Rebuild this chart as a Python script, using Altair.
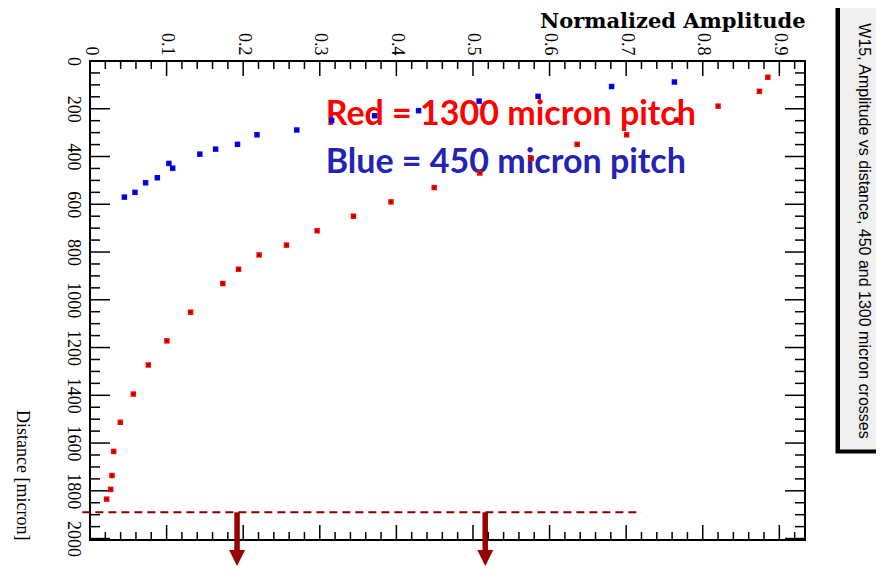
import altair as alt
import pandas as pd

# ---------------- data ----------------
blue_amp = [0.0449, 0.0587, 0.0726, 0.0879, 0.103, 0.108, 0.1434, 0.164, 0.1926,
            0.218, 0.270, 0.3155, 0.3716, 0.429, 0.508, 0.585, 0.681, 0.763]
blue_dist = [570, 550, 510, 489, 429, 449, 390, 369, 349,
             309, 289, 249, 229, 208, 168, 148, 107, 88]

red_amp = [0.885, 0.874, 0.820, 0.766, 0.7006, 0.636, 0.576, 0.509, 0.4494, 0.393,
           0.344, 0.2965, 0.2565, 0.2208, 0.1939, 0.1734, 0.1313, 0.1004, 0.0761,
           0.0566, 0.0396, 0.0309, 0.0287, 0.027, 0.0218]
red_dist = [68, 127, 189, 247, 309, 349, 408, 469, 530, 590,
            650, 711, 771, 812, 872, 932, 1052, 1172, 1273,
            1395, 1513, 1635, 1736, 1794, 1835]

x_labels = [0, 0.1, 0.2, 0.3, 0.4, 0.5, 0.6, 0.7, 0.8, 0.9]
y_labels = [0, 200, 400, 600, 800, 1000, 1200, 1400, 1600, 1800, 2000]
x_minor = [i * 0.02 for i in range(47) if i % 5 != 0]
y_minor = [i * 50 for i in range(41) if i % 4 != 0]

cut_dist = 1890
cut_amp = [-0.01, 0.72]
arrow_amp = [0.192, 0.516]
arrow_shaft_end = 2060
arrow_head_center = 2081

label_texts = ["Red = 1300 micron pitch", "Blue = 450 micron pitch"]
label_amp = [0.3077, 0.3077]
label_dist = [269.5, 470.7]
label_colors = ["#ff0000", "#2323b5"]

title_text = "W15, Amplitude vs distance, 450 and 1300 micron crosses"

# ---------------- layout ----------------
W, H = 715, 479
xs = alt.Scale(domain=[0, 0.9335], nice=False, zero=False)
ys = alt.Scale(domain=[0, 2006], nice=False, zero=False, reverse=True)

x_axis = alt.Axis(
    orient="top", values=x_labels, format="~g", ticks=False, tickSize=0,
    domain=False, grid=False, labelAngle=90, labelAlign="right",
    labelBaseline="middle", labelPadding=6, labelFont="Liberation Serif",
    labelFontSize=18, labelColor="black", labelOverlap=False, labelFlush=False,
    labelBound=False,
    title="Normalized Amplitude", titleFont="DejaVu Serif", titleFontSize=21,
    titleFontWeight="bold", titleColor="black", titleX=W, titleY=-34,
    titleAlign="right", titleBaseline="alphabetic", titleAngle=0,
)
y_axis = alt.Axis(
    orient="left", values=y_labels, format="d", ticks=False, tickSize=0,
    domain=False, grid=False, labelAngle=90, labelAlign="center",
    labelBaseline="top", labelPadding=9, labelFont="Liberation Serif",
    labelFontSize=18, labelColor="black", labelOverlap=False, labelFlush=False,
    labelBound=False,
    title="Distance [micron]", titleFont="Liberation Serif", titleFontSize=18,
    titleFontWeight="normal", titleColor="black", titleAngle=90,
    titleX=-78, titleY=H, titleAlign="right", titleBaseline="bottom",
)


def X(field):
    return alt.X(field, type="quantitative", scale=xs, axis=x_axis)


def Y(field):
    return alt.Y(field, type="quantitative", scale=ys, axis=y_axis)


one = pd.DataFrame({"k": [0]})

# title box (outside the frame, to the right)
box_shadow = alt.Chart(one).mark_rect(color="black").encode(
    x=alt.value(745.5), x2=alt.value(820), y=alt.value(-80), y2=alt.value(392.5))
box = alt.Chart(one).mark_rect(fill="#f0f0f0", stroke="black", strokeWidth=1).encode(
    x=alt.value(749.5), x2=alt.value(820), y=alt.value(-80), y2=alt.value(389))
box_text = alt.Chart(pd.DataFrame({"t": [title_text]})).mark_text(
    angle=90, align="center", baseline="middle",
    font="Liberation Sans", fontSize=16, color="black").encode(
    x=alt.value(774), y=alt.value(170), text="t:N")

# annotations
lab_df = pd.DataFrame({"amp": label_amp, "dist": label_dist,
                       "txt": label_texts, "col": label_colors})
labels = alt.Chart(lab_df).mark_text(
    align="left", baseline="alphabetic", font="Lato", fontWeight="bold",
    fontSize=34).encode(
    x=X("amp"), y=Y("dist"), text="txt:N",
    color=alt.Color("col:N", scale=None))

cut_df = pd.DataFrame({"a1": [cut_amp[0]], "a2": [cut_amp[1]], "dist": [cut_dist]})
cut_line = alt.Chart(cut_df).mark_rule(
    color="#8b0000", strokeWidth=2, strokeDash=[8, 5]).encode(
    x=X("a1"), x2="a2:Q", y=Y("dist"))

arr_df = pd.DataFrame({"amp": arrow_amp, "d1": [cut_dist] * 2,
                       "d2": [arrow_shaft_end] * 2, "dh": [arrow_head_center] * 2})
arrow_shaft = alt.Chart(arr_df).mark_rule(color="#990000", strokeWidth=5.5).encode(
    x=X("amp"), y=Y("d1"), y2="d2:Q")
arrow_head = alt.Chart(arr_df).mark_point(
    shape="M-1,-1L1,-1L0,1Z", filled=True, opacity=1, color="#990000",
    size=256).encode(x=X("amp"), y=Y("dh"))


# inward ticks on all four sides
def xtick_layers(vals, length):
    df = pd.DataFrame({"amp": vals})
    base = alt.Chart(df).mark_rule(color="black", strokeWidth=1.5)
    return [base.encode(x=X("amp"), y=alt.value(0), y2=alt.value(length)),
            base.encode(x=X("amp"), y=alt.value(H), y2=alt.value(H - length))]


def ytick_layers(vals, length):
    df = pd.DataFrame({"dist": vals})
    base = alt.Chart(df).mark_rule(color="black", strokeWidth=1.5)
    return [base.encode(y=Y("dist"), x=alt.value(0), x2=alt.value(length)),
            base.encode(y=Y("dist"), x=alt.value(W), x2=alt.value(W - length))]


ticks = (xtick_layers(x_labels, 15) + xtick_layers(x_minor, 8)
         + ytick_layers(y_labels, 20) + ytick_layers(y_minor, 10))

# data points
pts = pd.DataFrame({
    "amp": red_amp + blue_amp,
    "dist": red_dist + blue_dist,
    "col": ["#ff0000"] * len(red_amp) + ["#0000ff"] * len(blue_amp),
})
points = alt.Chart(pts).mark_square(size=30, opacity=1).encode(
    x=X("amp"), y=Y("dist"), color=alt.Color("col:N", scale=None))
centers = alt.Chart(pts).mark_square(size=3, opacity=1, color="#300000").encode(
    x=X("amp"), y=Y("dist"))

chart = alt.layer(
    box_shadow, box, box_text, labels, cut_line, arrow_shaft, arrow_head,
    *ticks, points, centers
).properties(
    width=W, height=H,
    autosize=alt.AutoSizeParams(type="none"),
    padding={"left": 82, "top": 53, "right": 71, "bottom": 28},
    background="white",
).configure_view(stroke="black", strokeWidth=2)

chart.save("out.html", embed_options={"renderer": "svg", "actions": False})
